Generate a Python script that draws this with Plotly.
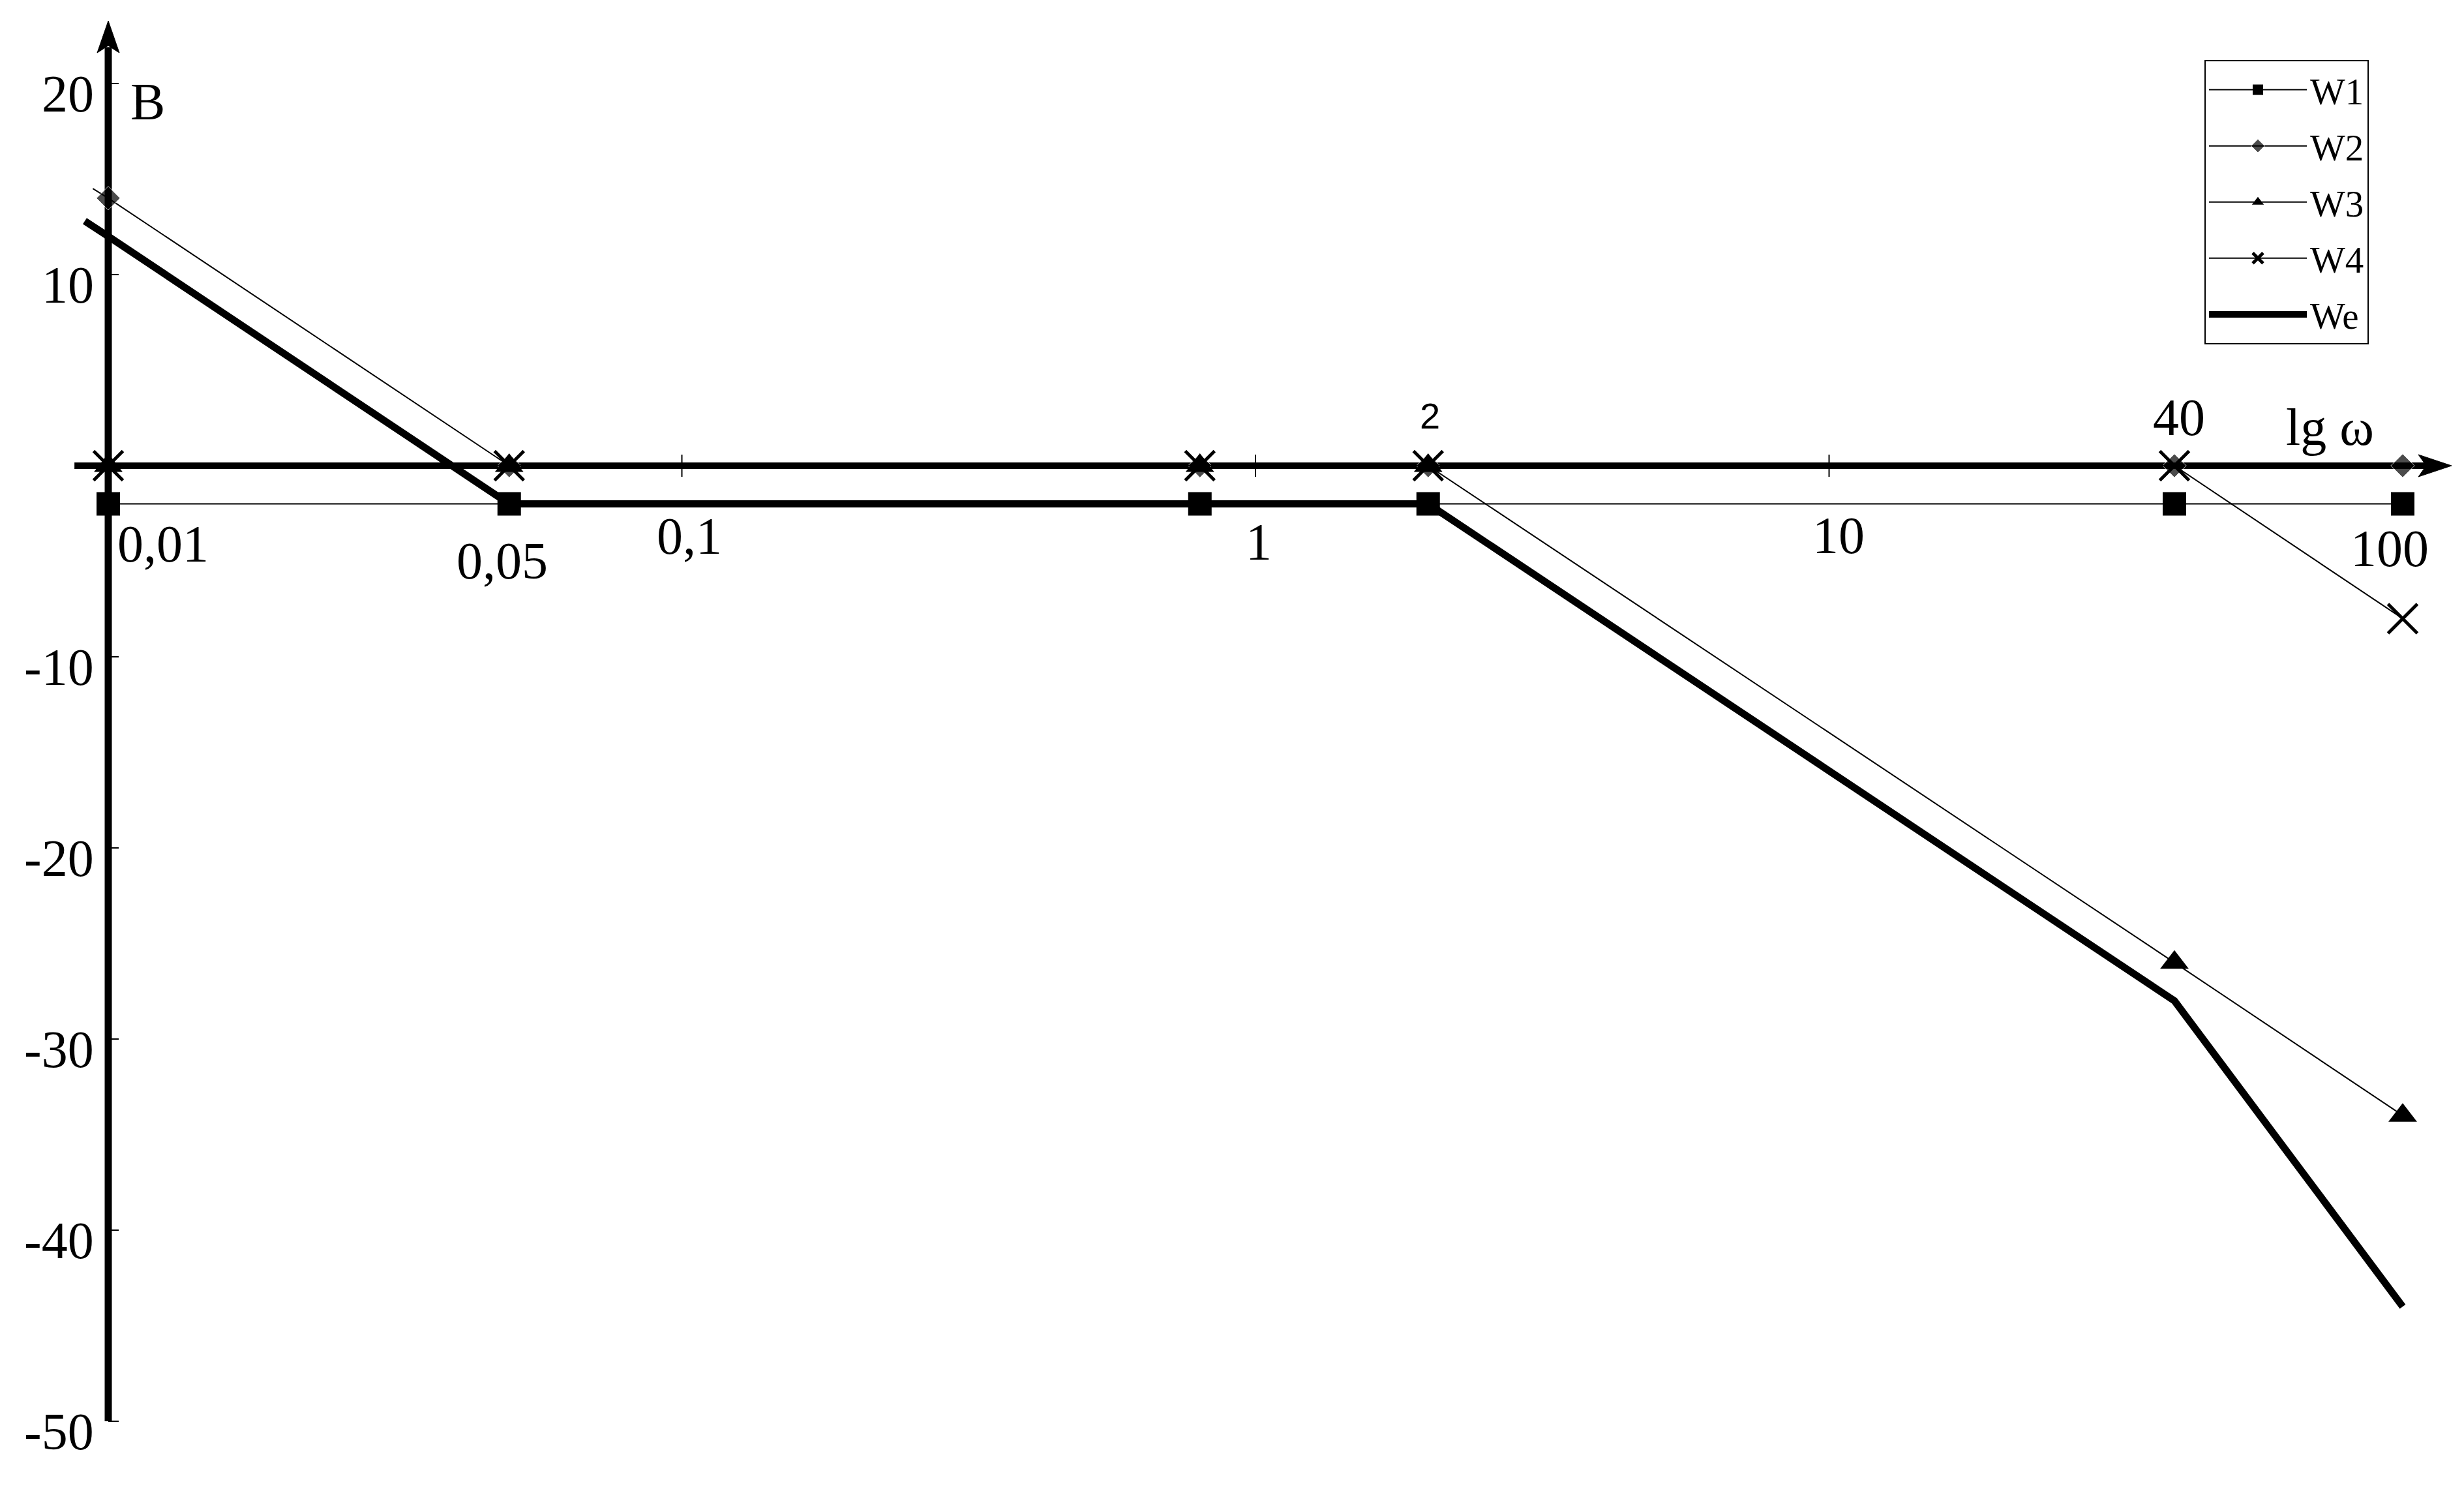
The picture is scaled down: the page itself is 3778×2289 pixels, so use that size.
import numpy as np
import plotly.graph_objects as go

# frequencies (omega) where the asymptotes break
omega = [0.01, 0.05, 0.8, 2, 40, 100]

# LAFC asymptotes of the separate links, dB
w1 = [-2, -2, -2, -2, -2, -2]
w2 = [14, 0, 0, 0, 0, 0]
w3 = [0, 0, 0, 0, -26, -34]
w4 = [0, 0, 0, 0, 0, -8]

# W2 line starts a bit left of the vertical axis
w2_omega_start = 0.0094
w2_start = 14.5

# resulting characteristic We
we_omega = [0.0091, 0.01, 0.05, 2, 40, 100]
we = [12.8, 12, -2, -2, -28, -44]

y_ticks = [20, 10, -10, -20, -30, -40, -50]
x_minor_ticks = [0.1, 1, 10]

# labels on the omega axis: text, value
x_labels_below = ["0,01", "0,05", "0,1", "1", "10", "100"]
x_values_below = [0.01, 0.05, 0.1, 1, 10, 100]
x_labels_above = ["2", "40"]
x_values_above = [2, 40]

# pixel offsets of these labels from their point on the axis
below_shift = [(84, 120), (-11, 146), (11, 108), (5, 117), (14, 107), (-20, 127)]
above_shift = [(3, 77), (7, 74)]

W, H = 3778, 2289
OFF = 8  # page margin of the browser
serif = "Liberation Serif"
thin = 2

fig = go.Figure()

fig.add_trace(go.Scatter(
    x=we_omega, y=we, mode="lines", name="We", legendrank=5, legendgroup="we",
    line=dict(color="black", width=11)))

fig.add_trace(go.Scatter(
    x=omega, y=w1, mode="lines+markers", name="W1", legendrank=1, legendgroup="w1",
    line=dict(color="black", width=thin),
    marker=dict(symbol="square", size=36, color="black")))

fig.add_trace(go.Scatter(
    x=[w2_omega_start] + omega, y=[w2_start] + w2, mode="lines+markers", name="W2",
    legendrank=2, legendgroup="w2",
    line=dict(color="black", width=thin),
    marker=dict(symbol="diamond", size=[0] + [28] * len(omega), color="black")))

fig.add_trace(go.Scatter(
    x=omega, y=w3, mode="lines+markers", name="W3", legendrank=3, legendgroup="w3",
    line=dict(color="black", width=thin),
    marker=dict(symbol="triangle-up", size=38, color="black")))

fig.add_trace(go.Scatter(
    x=omega, y=w4, mode="lines+markers", name="W4", legendrank=4, legendgroup="w4",
    line=dict(color="black", width=thin),
    marker=dict(symbol="x-thin", size=45, color="black", line=dict(color="black", width=5))))

shapes = []
# horizontal axis with arrow
shapes.append(dict(type="line", xref="x", yref="y", x0=0.00873, x1=110, y0=0, y1=0,
                   line=dict(color="black", width=10), layer="below"))
shapes.append(dict(type="path", xref="x", yref="y", xsizemode="pixel", ysizemode="pixel",
                   xanchor=100, yanchor=0, path="M 36 0 L 24 17 L 75 0 L 24 -17 Z",
                   fillcolor="black", line=dict(color="black", width=1), layer="below"))
# vertical axis with arrow
shapes.append(dict(type="line", xref="x", yref="y", x0=0.01, x1=0.01, y0=-50, y1=21.9,
                   line=dict(color="black", width=11), layer="below"))
shapes.append(dict(type="path", xref="x", yref="y", xsizemode="pixel", ysizemode="pixel",
                   xanchor=0.01, yanchor=20, path="M 0 58 L -17 47 L 0 96 L 17 47 Z",
                   fillcolor="black", line=dict(color="black", width=1), layer="below"))
for v in y_ticks:
    shapes.append(dict(type="line", xref="x", yref="y", xsizemode="pixel", xanchor=0.01,
                       x0=-17, x1=16, y0=v, y1=v, line=dict(color="black", width=thin), layer="below"))
for v in x_minor_ticks:
    shapes.append(dict(type="line", xref="x", yref="y", ysizemode="pixel", yanchor=0,
                       x0=v, x1=v, y0=-17, y1=17, line=dict(color="black", width=thin), layer="below"))

annotations = []
for v in y_ticks:
    annotations.append(dict(x=np.log10(0.01), y=v, xref="x", yref="y", text=str(v),
                            showarrow=False, xanchor="right", yanchor="middle",
                            xshift=-20, yshift=-16, font=dict(family=serif, size=80, color="black")))
for txt, v, (dx, dy) in zip(x_labels_below, x_values_below, below_shift):
    annotations.append(dict(x=np.log10(v), y=0, xref="x", yref="y", text=txt,
                            showarrow=False, xanchor="center", yanchor="middle",
                            xshift=dx, yshift=-dy, font=dict(family=serif, size=80, color="black")))
for txt, v, (dx, dy) in zip(x_labels_above, x_values_above, above_shift):
    fam = "Liberation Sans" if txt == "2" else serif
    size = 56 if txt == "2" else 80
    annotations.append(dict(x=np.log10(v), y=0, xref="x", yref="y", text=txt,
                            showarrow=False, xanchor="center", yanchor="middle",
                            xshift=dx, yshift=dy, font=dict(family=fam, size=size, color="black")))
annotations.append(dict(x=(3572 - OFF) / W, y=1 - (655 - OFF) / H, xref="paper", yref="paper",
                        text="lg ω", showarrow=False, xanchor="center", yanchor="middle",
                        font=dict(family=serif, size=80, color="black")))
annotations.append(dict(x=(226 - OFF) / W, y=1 - (156 - OFF) / H, xref="paper", yref="paper",
                        text="В", showarrow=False, xanchor="center", yanchor="middle",
                        font=dict(family=serif, size=80, color="black")))

# 0.01 sits 166 px from the left, one decade is 879.5 px; 0 dB sits 714 px from the top, 29.3 px per dB
x0_px, dec_px, y0_px, db_px = 166 - OFF, 879.5, 714 - OFF, 29.3

fig.update_layout(
    width=W, height=H, autosize=False,
    margin=dict(l=0, r=0, t=0, b=0),
    plot_bgcolor="white", paper_bgcolor="white",
    xaxis=dict(type="log", range=[-2 - x0_px / dec_px, -2 + (W - x0_px) / dec_px], visible=False),
    yaxis=dict(range=[-(H - y0_px) / db_px, y0_px / db_px], visible=False),
    shapes=shapes, annotations=annotations,
    showlegend=True,
    legend=dict(x=(3380 - OFF) / W, y=1 - (92 - OFF) / H, xanchor="left", yanchor="top",
                bgcolor="white", bordercolor="black", borderwidth=2,
                tracegroupgap=9, itemwidth=150, entrywidth=110,
                font=dict(family=serif, size=57, color="black")),
)

fig.write_html("out.html")
